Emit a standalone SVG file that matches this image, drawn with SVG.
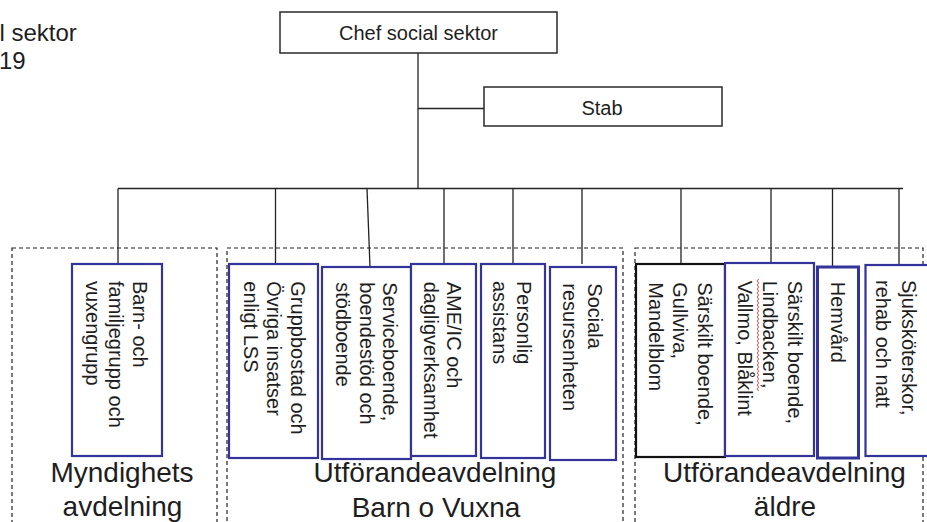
<svg xmlns="http://www.w3.org/2000/svg" width="927" height="522" viewBox="0 0 927 522">
<style>
text{font-family:"Liberation Sans",Arial,sans-serif;fill:#1e1e1e}
.top{font-size:20px}
.v{font-size:20px}
.grp{font-size:28px;text-anchor:middle}
.hdr{font-size:24px}
.box{fill:#fff;stroke:#2a2a2a;stroke-width:1.5}
.n{fill:#fff;stroke:#33339a;stroke-width:2.2}
.nb{fill:#fff;stroke:#111;stroke-width:2.2}
.dash{fill:none;stroke:#222;stroke-width:1.2;stroke-dasharray:4 3}
.c{fill:none;stroke:#222;stroke-width:1.3}
</style>
<rect width="927" height="522" fill="#fff"/>
<g id="header">
<text class="hdr" x="-0.5" y="41">l sektor</text>
<text class="hdr" x="-1" y="69">19</text>
</g>
<g id="groups">
<rect class="dash" x="12" y="248" width="205" height="290"/>
<rect class="dash" x="227" y="248" width="396" height="290"/>
<rect class="dash" x="635" y="248" width="288" height="290"/>
<text class="grp" x="122" y="482">Myndighets</text>
<text class="grp" x="122.5" y="516">avdelning</text>
<text class="grp" x="435" y="482">Utförandeavdelning</text>
<text class="grp" x="436" y="517">Barn o Vuxna</text>
<text class="grp" x="784.5" y="482">Utförandeavdelning</text>
<text class="grp" x="785" y="516">äldre</text>
</g>
<g id="connectors">
<path class="c" d="M418,53 V188.5"/>
<path class="c" d="M418,108.5 H484"/>
<path class="c" d="M118,188.5 H903"/>
<path class="c" d="M118,188.5 V264"/>
<path class="c" d="M275.5,188.5 V264"/>
<path class="c" d="M367,188.5 L370,267"/>
<path class="c" d="M444,188.5 V264"/>
<path class="c" d="M513,188.5 V264"/>
<path class="c" d="M582,188.5 V264"/>
<path class="c" d="M681,188.5 V264"/>
<path class="c" d="M771,188.5 V263"/>
<path class="c" d="M832.5,188.5 V267"/>
<path class="c" d="M899,188.5 V265"/>
</g>
<g id="chef">
<rect class="box" x="280" y="12" width="277" height="41"/>
<text class="top" x="418.5" y="40" text-anchor="middle">Chef social sektor</text>
</g>
<g id="stab">
<rect class="box" x="484" y="87" width="238" height="39"/>
<text class="top" x="602" y="115" text-anchor="middle">Stab</text>
</g>
<g id="n1">
<rect class="n" x="72" y="264" width="90" height="192"/>
<text class="v" transform="rotate(90)"><tspan x="281" y="-132.7">Barn- och</tspan><tspan x="281" y="-109">familjegrupp och</tspan><tspan x="281" y="-85.5">vuxengrupp</tspan></text>
</g>
<g id="n2">
<rect class="n" x="229" y="264" width="89" height="194"/>
<text class="v" transform="rotate(90)"><tspan x="281.3" y="-291">Gruppbostad och</tspan><tspan x="281.3" y="-267.3">Övriga insatser</tspan><tspan x="281.3" y="-243.6">enligt LSS</tspan></text>
</g>
<g id="n3">
<rect class="n" x="322" y="267" width="89" height="192"/>
<text class="v" transform="rotate(90)"><tspan x="282.3" y="-383">Serviceboende,</tspan><tspan x="282.3" y="-359.5">boendestöd och</tspan><tspan x="282.3" y="-336">stödboende</tspan></text>
</g>
<g id="n4">
<rect class="n" x="411" y="264" width="65" height="192"/>
<text class="v" transform="rotate(90)"><tspan x="281.7" y="-447">AME/IC och</tspan><tspan x="281.7" y="-423.5">dagligverksamhet</tspan></text>
</g>
<g id="n5">
<rect class="n" x="481" y="264" width="64" height="194"/>
<text class="v" transform="rotate(90)"><tspan x="281" y="-517">Personlig</tspan><tspan x="281" y="-493">assistans</tspan></text>
</g>
<g id="n6">
<rect class="n" x="550" y="267" width="66" height="193"/>
<text class="v" transform="rotate(90)"><tspan x="283.3" y="-587.5">Sociala</tspan><tspan x="283.3" y="-562.5">resursenheten</tspan></text>
</g>
<g id="n7">
<rect class="nb" x="636" y="264" width="89" height="193"/>
<text class="v" transform="rotate(90)"><tspan x="282.3" y="-697.5">Särskilt boende,</tspan><tspan x="282.3" y="-673">Gullviva,</tspan><tspan x="282.3" y="-648.5">Mandelblom</tspan></text>
</g>
<g id="n8">
<rect class="n" x="725" y="263" width="89" height="193"/>
<text class="v" transform="rotate(90)"><tspan x="280.7" y="-787.5">Särskilt boende,</tspan><tspan x="280.7" y="-762.5">Lindbacken,</tspan><tspan x="280.7" y="-738">Vallmo, Blåklint</tspan></text>
<path d="M758.6,279 l-1.3,2 1.3,2 -1.3,2 1.3,2 -1.3,2 1.3,2 -1.3,2 1.3,2 -1.3,2 1.3,2 -1.3,2 1.3,2 -1.3,2 1.3,2 -1.3,2 1.3,2 -1.3,2 1.3,2 -1.3,2 1.3,2 -1.3,2 1.3,2 -1.3,2 1.3,2 -1.3,2 1.3,2 -1.3,2 1.3,2 -1.3,2 1.3,2 -1.3,2 1.3,2 -1.3,2 1.3,2 -1.3,2 1.3,2 -1.3,2 1.3,2 -1.3,2 1.3,2 -1.3,2 1.3,2 -1.3,2 1.3,2 -1.3,2 1.3,2 -1.3,2 1.3,2 -1.3,2 1.3,2 -1.3,2 1.3,2 -1.3,2 1.3,2 -1.3,2 1.3,2" fill="none" stroke="#e03030" stroke-width="0.9"/>
</g>
<g id="n9">
<rect class="n" x="817.5" y="267" width="41" height="191" style="stroke-width:3"/>
<text class="v" transform="rotate(90)"><tspan x="281.7" y="-830.5">Hemvård</tspan></text>
</g>
<g id="n10">
<rect class="n" x="865.5" y="265" width="90" height="191"/>
<text class="v" transform="rotate(90)"><tspan x="280" y="-902">Sjuksköterskor,</tspan><tspan x="280" y="-876">rehab och natt</tspan></text>
</g>
</svg>
